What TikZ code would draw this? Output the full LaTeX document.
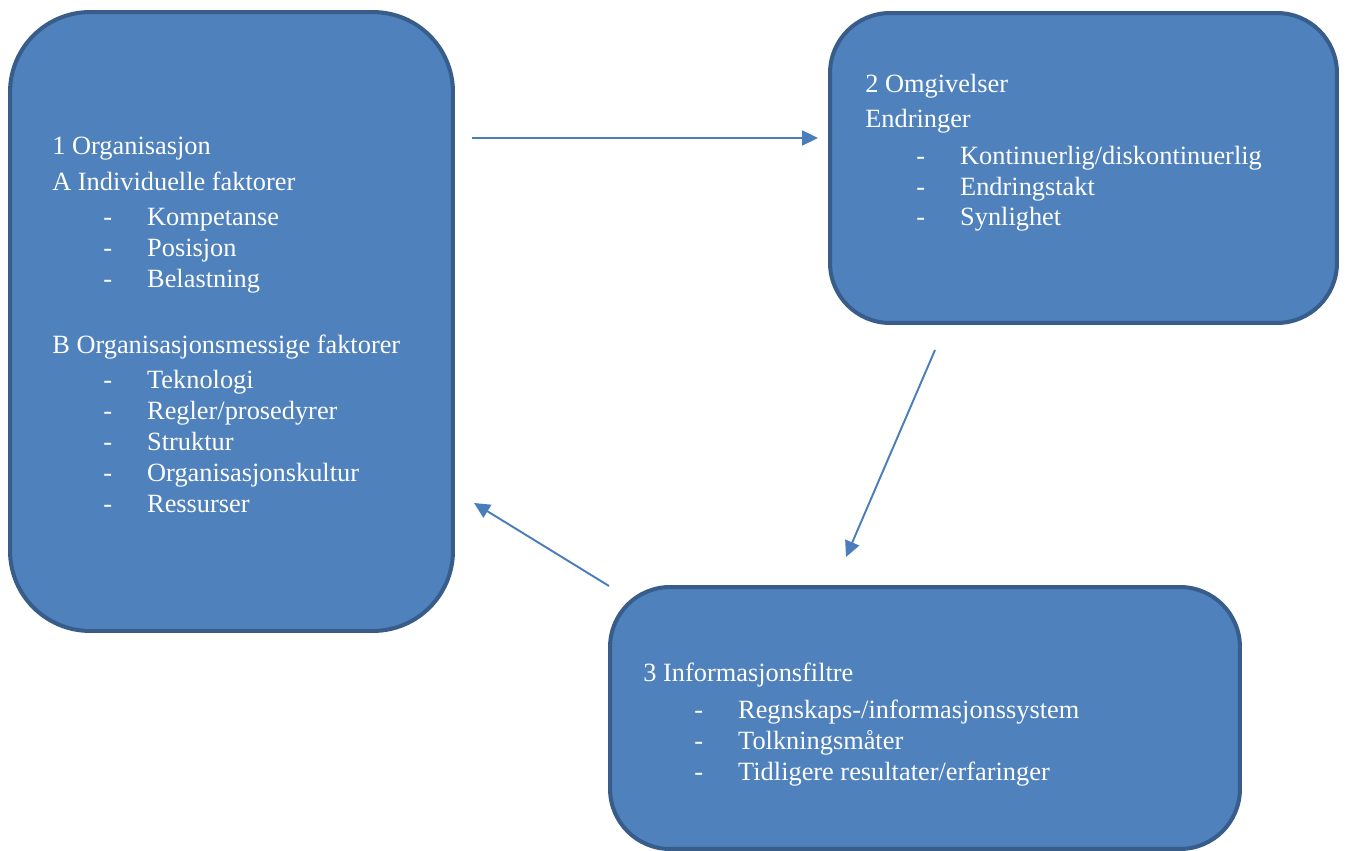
\documentclass[tikz,border=0pt]{standalone}
\usepackage{fontspec}
\setmainfont{Liberation Serif}
\usetikzlibrary{arrows.meta, positioning}
\definecolor{boxfill}{HTML}{4F81BD}
\definecolor{boxline}{HTML}{385D8A}
\definecolor{arrowblue}{HTML}{4A7EBB}
\newcommand{\dashitem}[1]{\hspace*{29pt}\makebox[25pt][l]{-}#1}

\begin{document}
\begin{tikzpicture}[x=0.02cm, y=-0.02cm,
  box/.style={draw=boxline, fill=boxfill, line width=2.3pt, rounded corners=#1},
  boxtext/.style={anchor=base west, inner sep=0pt, text=white, align=left, font=\fontsize{15}{17.6}\selectfont},
  flow/.style={draw=arrowblue, line width=1.1pt, -{Triangle[length=9pt, width=8.5pt]}}
]
\useasboundingbox (0,0) rectangle (1346,851);
\node[box=1.6cm, minimum width=8.86cm, minimum height=12.38cm] (org) at (231.5,321.5) {};
\node[box=1.2cm, minimum width=10.14cm, minimum height=6.2cm] (env) at (1083.5,168) {};
\node[box=1.2cm, minimum width=12.6cm, minimum height=5.24cm] (filt) at (925,718) {};
% text blocks, placed by the baseline of their last line
\node[boxtext] (orgtext) at (52,512) {1 Organisasjon\\[2.4pt]
  A Individuelle faktorer\\[2.4pt]
  \dashitem{Kompetanse}\\
  \dashitem{Posisjon}\\
  \dashitem{Belastning}\\[20pt]
  B Organisasjonsmessige faktorer\\[2.4pt]
  \dashitem{Teknologi}\\
  \dashitem{Regler/prosedyrer}\\
  \dashitem{Struktur}\\
  \dashitem{Organisasjonskultur}\\
  \dashitem{Ressurser}};
\node[boxtext] (envtext) at (865,226) {2 Omgivelser\\[2.4pt]
  Endringer\\[3.2pt]
  \dashitem{Kontinuerlig/diskontinuerlig}\\
  \dashitem{Endringstakt}\\
  \dashitem{Synlighet}};
\node[boxtext] (filttext) at (643,780) {3 Informasjonsfiltre\\[3.2pt]
  \dashitem{Regnskaps-/informasjonssystem}\\
  \dashitem{Tolkningsmåter}\\
  \dashitem{Tidligere resultater/erfaringer}};
% connectors
\coordinate (orgout) at (472,138);
\coordinate (envin) at (818,138);
\coordinate (envout) at (935,350);
\coordinate (filtin) at (846,557);
\coordinate (filtout) at (609,586);
\coordinate (orgin) at (474,503);
\draw[flow] (orgout) -- (envin);
\draw[flow] (envout) -- (filtin);
\draw[flow] (filtout) -- (orgin);
\end{tikzpicture}
\end{document}
